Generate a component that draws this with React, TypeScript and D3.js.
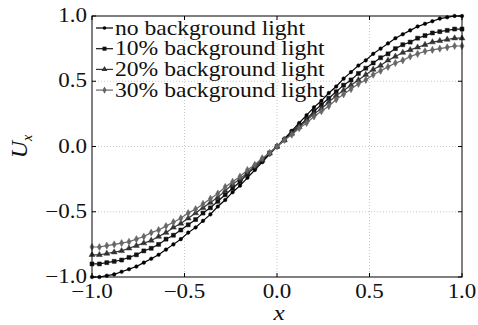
import * as d3 from "d3";

const width = 478;
const height = 325;
const margin = { top: 16, right: 16, bottom: 48, left: 92 };

// sample positions along x
const xValues = [
  -1.0, -0.96, -0.92, -0.88, -0.84, -0.8, -0.76, -0.72, -0.68, -0.64, -0.6, -0.56, -0.52,
  -0.48, -0.44, -0.4, -0.36, -0.32, -0.28, -0.24, -0.2, -0.16, -0.12, -0.08, -0.04,
  0.0, 0.04, 0.08, 0.12, 0.16, 0.2, 0.24, 0.28, 0.32, 0.36, 0.4, 0.44, 0.48,
  0.52, 0.56, 0.6, 0.64, 0.68, 0.72, 0.76, 0.8, 0.84, 0.88, 0.92, 0.96, 1.0,
];

const noLight = [
  -1.0, -1.0, -0.99, -0.98, -0.96, -0.94, -0.92, -0.89, -0.86, -0.83, -0.79, -0.75, -0.71,
  -0.66, -0.62, -0.57, -0.52, -0.46, -0.41, -0.35, -0.3, -0.24, -0.18, -0.12, -0.06,
  0.0, 0.06, 0.12, 0.18, 0.24, 0.3, 0.35, 0.41, 0.46, 0.52, 0.57, 0.62, 0.66,
  0.71, 0.75, 0.79, 0.83, 0.86, 0.89, 0.92, 0.94, 0.96, 0.98, 0.99, 1.0, 1.0,
];

const light10 = [
  -0.9, -0.9, -0.89, -0.88, -0.87, -0.85, -0.83, -0.8, -0.78, -0.75, -0.71, -0.68, -0.64,
  -0.6, -0.56, -0.51, -0.47, -0.42, -0.37, -0.32, -0.27, -0.21, -0.16, -0.11, -0.05,
  0.0, 0.05, 0.11, 0.16, 0.21, 0.27, 0.32, 0.37, 0.42, 0.47, 0.51, 0.56, 0.6,
  0.64, 0.68, 0.71, 0.75, 0.78, 0.8, 0.83, 0.85, 0.87, 0.88, 0.89, 0.9, 0.9,
];

const light20 = [
  -0.83, -0.83, -0.82, -0.81, -0.8, -0.78, -0.76, -0.74, -0.72, -0.69, -0.66, -0.62, -0.59,
  -0.55, -0.51, -0.47, -0.43, -0.39, -0.34, -0.29, -0.25, -0.2, -0.15, -0.1, -0.05,
  0.0, 0.05, 0.1, 0.15, 0.2, 0.25, 0.29, 0.34, 0.39, 0.43, 0.47, 0.51, 0.55,
  0.59, 0.62, 0.66, 0.69, 0.72, 0.74, 0.76, 0.78, 0.8, 0.81, 0.82, 0.83, 0.83,
];

const light30 = [
  -0.77, -0.77, -0.76, -0.75, -0.74, -0.73, -0.71, -0.69, -0.66, -0.64, -0.61, -0.58, -0.55,
  -0.51, -0.48, -0.44, -0.4, -0.36, -0.31, -0.27, -0.23, -0.18, -0.14, -0.09, -0.05,
  0.0, 0.05, 0.09, 0.14, 0.18, 0.23, 0.27, 0.31, 0.36, 0.4, 0.44, 0.48, 0.51,
  0.55, 0.58, 0.61, 0.64, 0.66, 0.69, 0.71, 0.73, 0.74, 0.75, 0.76, 0.77, 0.77,
];

const seriesNames = [
  "no background light",
  "10% background light",
  "20% background light",
  "30% background light",
];

const xTicks = [-1.0, -0.5, 0.0, 0.5, 1.0];
const yTicks = [-1.0, -0.5, 0.0, 0.5, 1.0];

const seriesStyle = [
  { color: "#000", symbol: d3.symbolCircle, size: 10 },
  { color: "#111", symbol: d3.symbolSquare, size: 16 },
  { color: "#333", symbol: d3.symbolTriangle, size: 15 },
  { color: "#666", symbol: d3.symbolDiamond, size: 15 },
];

const serif = { fontFamily: "Liberation Serif, serif" };
const fmt = (v: number) => d3.format(".1f")(v).replace("-", "\u2212");

// the source picture is a bit stretched sideways, so text is widened to match
const T = ({ x, y, anchor, size, sx, children }: { x: number; y: number; anchor?: string; size: number; sx: number; children: any }) => (
  <text transform={`translate(${x},${y}) scale(${sx},1)`} textAnchor={anchor ?? "start"} fontSize={size} fill="#111" style={serif}>
    {children}
  </text>
);

export default function App() {
  const x = d3.scaleLinear().domain([-1, 1]).range([margin.left, width - margin.right]);
  const y = d3.scaleLinear().domain([-1, 1]).range([height - margin.bottom, margin.top]);

  const allSeries = [noLight, light10, light20, light30];
  const line = d3
    .line<number>()
    .x((_, i) => x(xValues[i]))
    .y((d) => y(d));

  const x0 = x.range()[0];
  const x1 = x.range()[1];
  const y0 = y.range()[0];
  const y1 = y.range()[1];

  return (
    <svg
      width={width}
      height={height}
      style={{ position: "absolute", left: 0, top: 0, background: "#fff" }}
    >
      {/* grid */}
      {xTicks.slice(1, -1).map((t) => (
        <line key={"gx" + t} x1={x(t)} x2={x(t)} y1={y1} y2={y0} stroke="#bbb" strokeWidth={0.8} strokeDasharray="1,2" />
      ))}
      {yTicks.slice(1, -1).map((t) => (
        <line key={"gy" + t} x1={x0} x2={x1} y1={y(t)} y2={y(t)} stroke="#bbb" strokeWidth={0.8} strokeDasharray="1,2" />
      ))}

      {/* series */}
      {allSeries.map((s, k) => {
        const st = seriesStyle[k];
        const sym = d3.symbol().type(st.symbol).size(st.size)();
        return (
          <g key={seriesNames[k]}>
            <path d={line(s) ?? ""} fill="none" stroke={st.color} strokeWidth={1.2} />
            {s.map((v, i) => (
              <path key={i} d={sym ?? ""} transform={`translate(${x(xValues[i])},${y(v)})`} fill={st.color} stroke={st.color} strokeWidth={0.5} />
            ))}
          </g>
        );
      })}

      {/* frame */}
      <rect x={x0} y={y1} width={x1 - x0} height={y0 - y1} fill="none" stroke="#000" strokeWidth={1} />

      {/* ticks, inward on all sides */}
      {xTicks.map((t) => (
        <g key={"tx" + t}>
          <line x1={x(t)} x2={x(t)} y1={y0} y2={y0 - 4} stroke="#000" />
          <line x1={x(t)} x2={x(t)} y1={y1} y2={y1 + 4} stroke="#000" />
          <T x={x(t)} y={y0 + 21} anchor="middle" size={20} sx={1.15}>
            {fmt(t)}
          </T>
        </g>
      ))}
      {yTicks.map((t) => (
        <g key={"ty" + t}>
          <line x1={x0} x2={x0 + 4} y1={y(t)} y2={y(t)} stroke="#000" />
          <line x1={x1} x2={x1 - 4} y1={y(t)} y2={y(t)} stroke="#000" />
          <T x={x0 - 5} y={y(t) + 6} anchor="end" size={20} sx={1.15}>
            {fmt(t)}
          </T>
        </g>
      ))}

      {/* axis labels */}
      <T x={279} y={320} anchor="middle" size={22} sx={1.15}>
        <tspan fontStyle="italic">x</tspan>
      </T>
      <text transform={`translate(27,${y(0)}) rotate(-90)`} textAnchor="middle" fontSize={24} fontStyle="italic" fill="#111" style={serif}>
        U<tspan fontSize={14} dy={5}>x</tspan>
      </text>

      {/* legend */}
      {seriesNames.map((name, k) => {
        const st = seriesStyle[k];
        const cy = 28 + k * 20.7;
        const sym = d3.symbol().type(st.symbol).size(st.size)();
        return (
          <g key={"lg" + k}>
            <line x1={96} x2={113} y1={cy} y2={cy} stroke={st.color} strokeWidth={1.2} />
            <path d={sym ?? ""} transform={`translate(104.5,${cy})`} fill={st.color} />
            <T x={115} y={cy + 6.5} size={20} sx={1.18}>
              {name}
            </T>
          </g>
        );
      })}
    </svg>
  );
}
